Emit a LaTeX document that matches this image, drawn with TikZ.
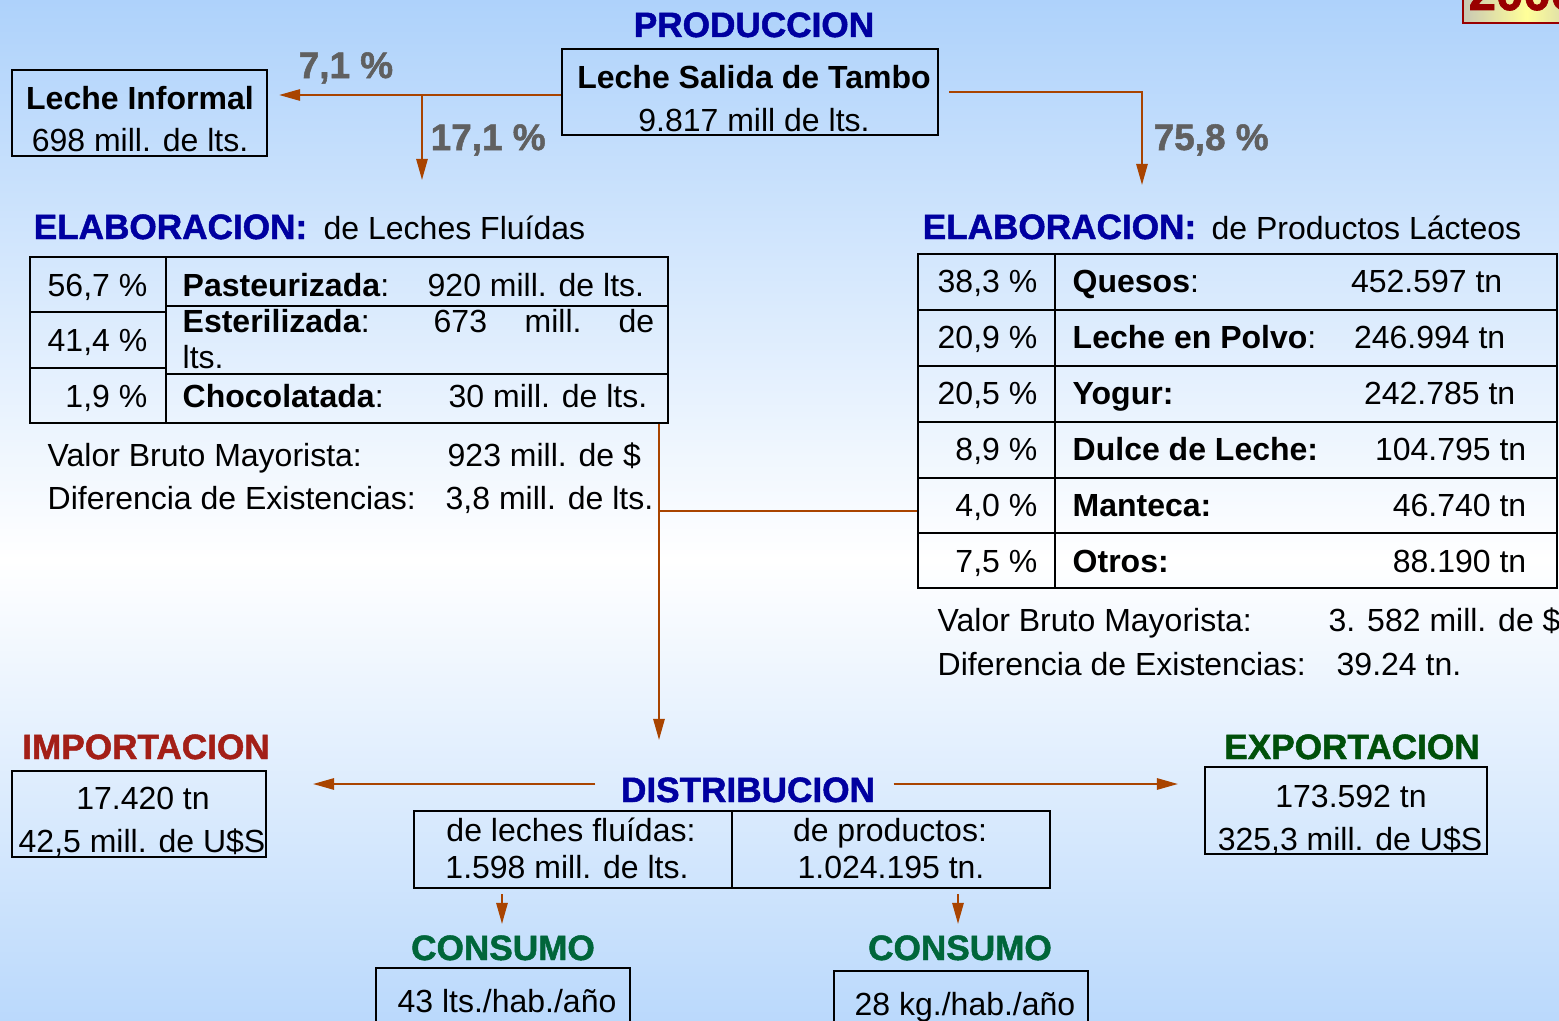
\documentclass[tikz,border=0pt]{standalone}
\usepackage{fontspec}
\setmainfont{Liberation Sans}
\newfontfamily\heavyfont[FakeBold=1.4]{Liberation Sans Bold}
\usetikzlibrary{arrows.meta, positioning, fit}
\definecolor{bgBlue}{HTML}{AED2FB}
\definecolor{titleBlue}{HTML}{0000A0}
\definecolor{impRed}{HTML}{A31F17}
\definecolor{expGreen}{HTML}{00500A}
\definecolor{conGreen}{HTML}{00663A}
\definecolor{pctGrey}{HTML}{606060}
\definecolor{flowBrown}{HTML}{A94400}
\definecolor{yearRed}{HTML}{990000}
\definecolor{yearYellow}{HTML}{FFFF99}
\definecolor{yearGrey}{HTML}{C8C8B4}

\begin{document}
\begin{tikzpicture}[x=0.01cm, y=-0.01cm,
  txt/.style={font=\fontsize{9.1}{11}\selectfont, inner sep=0pt},
  hdr/.style={font=\fontsize{10}{12}\heavyfont, inner sep=0pt},
  pct/.style={font=\fontsize{10.5}{12}\heavyfont, text=pctGrey, inner sep=0pt},
  cell/.style={draw=black, line width=0.6pt, inner sep=0pt},
  flow/.style={draw=flowBrown, line width=0.6pt, -{Triangle[length=6pt, width=3.2pt]}},
  link/.style={draw=flowBrown, line width=0.6pt},
]
  \useasboundingbox (0,0) rectangle (1559,1021);
  % background
  \shade[top color=bgBlue, bottom color=white] (0,0) rectangle (1559,560);
  \shade[top color=white, bottom color=bgBlue!85] (0,560) rectangle (1559,1021);
  \begin{scope}
    \clip (0,0) rectangle (1559,1021);
    \shadedraw[left color=yearGrey, right color=yearGrey, middle color=yearYellow,
               draw=yearRed, line width=0.8pt] (1463,-40) rectangle (1590,23);
    \node[font=\fontsize{14}{16}\heavyfont, text=yearRed, anchor=base west, inner sep=0pt] (year) at (1468,10) {2006};
  \end{scope}

  % produccion
  \node[hdr, text=titleBlue, anchor=base] (prodtitle) at (754,37) {PRODUCCION};
  \node[cell, fit={(562,49) (938,135)}] (tambo) {};
  \node[txt, anchor=base] (tambo1) at (754,88) {\textbf{Leche Salida de Tambo}};
  \node[txt, anchor=base] (tambo2) at (754,131) {9.817 mill de lts.};
  \node[cell, fit={(12,70) (267,156)}] (informal) {};
  \node[txt, anchor=base] (informal1) at (140,110) {\textbf{Leche Informal}};
  \node[txt, anchor=base] (informal2) at (140,152) {698 mill. de lts.};

  \node[pct, anchor=base west] (pinf) at (298,78) {7,1 \%};
  \node[pct, anchor=base west] (pflu) at (430,150) {17,1 \%};
  \node[pct, anchor=base west] (ppro) at (1153,150) {75,8 \%};

  \coordinate (splitL) at (422,95);
  \coordinate (fluidin) at (422,180);
  \coordinate (cornerR) at (1142,92);
  \coordinate (prodin) at (1142,185);
  \draw[flow, shorten >=0.11cm] (tambo.west |- splitL) -- (informal.east |- splitL);
  \draw[flow] (splitL) -- (fluidin);
  \draw[flow, shorten <=0.10cm] (tambo.east |- cornerR) -- (cornerR) -- (prodin);

  % elaboracion: leches fluidas
  \node[hdr, text=titleBlue, anchor=base west] (fluidtitle) at (33,239) {ELABORACION:};
  \node[txt, anchor=base west] (fluidsub) at (323,239) {de Leches Fluídas};
  \node[cell, fit={(30,257) (668,423)}] (fluidtab) {};
  \draw[cell] (166,257) -- (166,423)
              (30,312) -- (166,312) (30,368) -- (166,368)
              (166,306) -- (668,306) (166,374) -- (668,374);
  \node[txt, anchor=base east] (fp1) at (148,296) {56,7 \%};
  \node[txt, anchor=base west] (fn1) at (182,296) {\textbf{Pasteurizada}:};
  \node[txt, anchor=base west] (fv1) at (427,296) {920 mill. de lts.};
  \node[txt, anchor=base east] (fp2) at (148,351) {41,4 \%};
  \node[txt, anchor=base west] (fn2) at (182,333) {\textbf{Esterilizada}:};
  \node[txt, anchor=base west] (fv2a) at (433,333) {673};
  \node[txt, anchor=base west] (fv2b) at (524,333) {mill.};
  \node[txt, anchor=base west] (fv2c) at (618,333) {de};
  \node[txt, anchor=base west] (fv2d) at (182,368) {lts.};
  \node[txt, anchor=base east] (fp3) at (148,407) {1,9 \%};
  \node[txt, anchor=base west] (fn3) at (182,407) {\textbf{Chocolatada}:};
  \node[txt, anchor=base west] (fv3) at (448,407) {30 mill. de lts.};
  \node[txt, anchor=base west] (fvbm) at (47,466) {Valor Bruto Mayorista:};
  \node[txt, anchor=base west] (fvbmv) at (447,466) {923 mill. de \$};
  \node[txt, anchor=base west] (fdex) at (47,509) {Diferencia de Existencias:};
  \node[txt, anchor=base west] (fdexv) at (445,509) {3,8 mill. de lts.};

  % elaboracion: productos lacteos
  \node[hdr, text=titleBlue, anchor=base west] (prodtitle2) at (922,239) {ELABORACION:};
  \node[txt, anchor=base west] (prodsub) at (1211,239) {de Productos Lácteos};
  \node[cell, fit={(918,254) (1557,588)}] (prodtab) {};
  \draw[cell] (1055,254) -- (1055,588);
  \foreach \yy in {310,366,422,478,533}
    \draw[cell] (918,\yy) -- (1557,\yy);
  \foreach \p/\n/\v/\r [count=\i] in {
      {38,3}/{\textbf{Quesos}:}/452.597/1503,
      {20,9}/{\textbf{Leche en Polvo}:}/246.994/1506,
      {20,5}/{\textbf{Yogur:}}/242.785/1516,
      {8,9}/{\textbf{Dulce de Leche:}}/104.795/1527,
      {4,0}/{\textbf{Manteca:}}/46.740/1527,
      {7,5}/{\textbf{Otros:}}/88.190/1527}{
    \pgfmathsetmacro{\bl}{292+56*(\i-1)}
    \node[txt, anchor=base east] (pp\i) at (1038,\bl) {\p\ \%};
    \node[txt, anchor=base west] (pn\i) at (1072,\bl) {\n};
    \node[txt, anchor=base east] (pv\i) at (\r,\bl) {\v\ tn};
  }
  \node[txt, anchor=base west] (pvbm) at (937,631) {Valor Bruto Mayorista:};
  \node[txt, anchor=base west] (pvbmv) at (1328,631) {3. 582 mill. de \$};
  \node[txt, anchor=base west] (pdex) at (937,675) {Diferencia de Existencias:};
  \node[txt, anchor=base west] (pdexv) at (1336,675) {39.24 tn.};

  \coordinate (join) at (659,511);
  \coordinate (distin) at (659,740);
  \draw[link] (prodtab.west |- join) -- (join);
  \draw[flow] (fluidtab.south -| join) -- (distin);

  % distribucion
  \node[hdr, text=titleBlue, anchor=base] (distitle) at (748,802) {DISTRIBUCION};
  \node[cell, fit={(414,811) (1050,888)}] (distbox) {};
  \draw[cell] (732,811) -- (732,888);
  \node[txt, anchor=base] (dl1) at (571,841) {de leches fluídas:};
  \node[txt, anchor=base] (dl2) at (567,878) {1.598 mill. de lts.};
  \node[txt, anchor=base] (dp1) at (890,841) {de productos:};
  \node[txt, anchor=base] (dp2) at (891,878) {1.024.195 tn.};

  \coordinate (impin) at (313,784);
  \coordinate (expin) at (1178,784);
  \draw[flow, shorten <=0.25cm] (distitle.west |- impin) -- (impin);
  \draw[flow, shorten <=0.18cm] (distitle.east |- expin) -- (expin);

  % importacion / exportacion
  \node[hdr, text=impRed, anchor=base] (imptitle) at (146,759) {IMPORTACION};
  \node[cell, fit={(12,771) (266,857)}] (impbox) {};
  \node[txt, anchor=base] (imp1) at (143,809) {17.420 tn};
  \node[txt, anchor=base] (imp2) at (142,852) {42,5 mill. de U\$S};
  \node[hdr, text=expGreen, anchor=base] (exptitle) at (1352,759) {EXPORTACION};
  \node[cell, fit={(1205,767) (1487,854)}] (expbox) {};
  \node[txt, anchor=base] (exp1) at (1351,807) {173.592 tn};
  \node[txt, anchor=base] (exp2) at (1350,850) {325,3 mill. de U\$S};

  % consumo
  \coordinate (conLin) at (502,924);
  \coordinate (conRin) at (958,924);
  \draw[flow, shorten <=0.05cm] (distbox.south -| conLin) -- (conLin);
  \draw[flow, shorten <=0.05cm] (distbox.south -| conRin) -- (conRin);
  \node[hdr, text=conGreen, anchor=base] (conLtitle) at (503,960) {CONSUMO};
  \node[hdr, text=conGreen, anchor=base] (conRtitle) at (960,960) {CONSUMO};
  \node[cell, fit={(376,968) (630,1040)}] (conLbox) {};
  \node[cell, fit={(834,971) (1088,1040)}] (conRbox) {};
  \node[txt, anchor=base] (conL) at (507,1012) {43 lts./hab./año};
  \node[txt, anchor=base] (conR) at (965,1015) {28 kg./hab./año};
\end{tikzpicture}
\end{document}
